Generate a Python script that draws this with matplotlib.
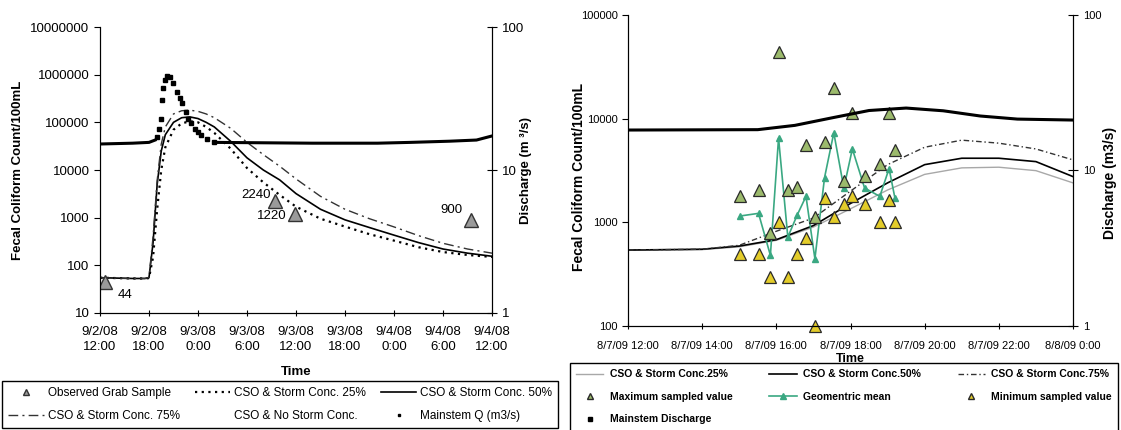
import matplotlib

matplotlib.use("Agg")
import matplotlib.pyplot as plt
from matplotlib.lines import Line2D
from matplotlib.ticker import FixedLocator, NullLocator, FuncFormatter

plt.rcParams["font.family"] = ["Liberation Sans", "DejaVu Sans"]

# ---- September 2008 storm, hours after 9/2/08 12:00 ----
storm_hours = [0, 2, 4, 5.5, 6, 6.5, 7, 7.5, 8, 9, 10, 11, 12, 13, 14, 16, 18,
               20, 22, 24, 27, 30, 33, 36, 39, 42, 45, 48]
conc_25 = [55, 54, 53, 53, 54, 150, 1500, 10000, 30000, 70000, 95000, 105000,
           100000, 80000, 60000, 28000, 11000, 5500, 3000, 1700, 950, 650, 450,
           330, 240, 190, 165, 150]
conc_50 = [55, 54, 53, 53, 55, 300, 5000, 25000, 55000, 100000, 125000, 130000,
           120000, 100000, 80000, 40000, 18000, 10000, 6200, 3200, 1500, 900, 620,
           430, 300, 220, 180, 155]
conc_75 = [55, 54, 53, 53, 56, 400, 6000, 35000, 80000, 150000, 175000, 180000,
           170000, 150000, 125000, 75000, 38000, 21000, 12000, 6500, 2800, 1500,
           950, 640, 420, 290, 220, 180]

grab_hours = [0.6, 21.4, 23.9, 45.4]
grab_values = [44, 2240, 1220, 900]
grab_labels = ["44", "2240", "1220", "900"]

# mainstem discharge (m3/s): steady flow either side of the flood pulse
q_pre_hours = [0, 2, 4, 6, 6.75]
q_pre = [15.2, 15.3, 15.4, 15.6, 16.2]
q_pulse_hours = [6.94, 7.26, 7.46, 7.63, 7.75, 7.96, 8.24, 8.57, 8.98, 9.4, 9.8,
                 10.1, 10.5, 10.8, 11.2, 11.6, 12.03, 12.4, 13.05, 13.9]
q_pulse = [17.1, 19.5, 22.9, 31, 37.2, 42.6, 45.4, 44.5, 40.4, 35.3, 31.7, 29.3,
           25.6, 22.9, 21.2, 19.5, 18.5, 17.6, 16.6, 15.8]
q_post_hours = [14, 20, 26, 34, 38, 42.8, 46.1, 48]
q_post = [15.6, 15.5, 15.4, 15.4, 15.6, 15.9, 16.2, 17.3]

ticks_2008 = [0, 6, 12, 18, 24, 30, 36, 42, 48]
tick_labels_2008 = ["9/2/08\n12:00", "9/2/08\n18:00", "9/3/08\n0:00",
                    "9/3/08\n6:00", "9/3/08\n12:00", "9/3/08\n18:00",
                    "9/4/08\n0:00", "9/4/08\n6:00", "9/4/08\n12:00"]

# ---- August 2009 storm, hours after 8/7/09 12:00 ----
model_hours = [0, 2, 3, 4, 5, 6, 7, 8, 9, 10, 11, 12]
model_25 = [540, 545, 580, 670, 900, 1350, 2050, 2900, 3350, 3400, 3150, 2400]
model_50 = [540, 550, 590, 680, 930, 1520, 2400, 3600, 4150, 4150, 3850, 2760]
model_75 = [540, 550, 600, 820, 1100, 2000, 3600, 5300, 6200, 5800, 5100, 4000]

sample_hours = [3.02, 3.52, 3.84, 4.06, 4.31, 4.56, 4.8, 5.04, 5.3, 5.55, 5.82,
                6.05, 6.38, 6.79, 7.04, 7.2]
sample_max = [1780, 2050, 790, 44000, 2050, 2200, 5600, 1130, 5900, 19600, 2500,
              11300, 2820, 3630, 11300, 5000]
sample_min = [500, 500, 300, 1010, 300, 500, 710, 100, 1700, 1130, 1510, 1780,
              1510, 1000, 1650, 1000]
sample_geomean = [1150, 1220, 480, 6500, 720, 1170, 1780, 445, 2700, 7300, 2140,
                  5100, 2140, 1780, 3300, 1700]

discharge_hours = [0, 3.5, 4.5, 5.5, 6.5, 7.5, 8.5, 9.5, 10.5, 12]
discharge_2009 = [18.2, 18.3, 19.5, 21.8, 24.3, 25.2, 24.2, 22.4, 21.4, 21.1]

ticks_2009 = [0, 2, 4, 6, 8, 10, 12]
tick_labels_2009 = ["8/7/09 12:00", "8/7/09 14:00", "8/7/09 16:00",
                    "8/7/09 18:00", "8/7/09 20:00", "8/7/09 22:00", "8/8/09 0:00"]

plain = FuncFormatter(lambda v, pos: f"{v:.0f}")


def log_axis(axis, ticks, size):
    axis.set_major_locator(FixedLocator(ticks))
    axis.set_minor_locator(NullLocator())
    axis.set_major_formatter(plain)
    for lab in axis.get_ticklabels():
        lab.set_fontsize(size)


fig = plt.figure(figsize=(11.21, 4.3), dpi=100)

# ---------------- left panel ----------------
ax1 = fig.add_axes([0.0892, 0.2721, 0.3497, 0.6651])
ax1r = ax1.twinx()

l25, = ax1.plot(storm_hours, conc_25, color="black", lw=1.6, ls=(0, (1, 2)),
                label="CSO & Storm Conc. 25%")
l50, = ax1.plot(storm_hours, conc_50, color="black", lw=1.2,
                label="CSO & Storm Conc. 50%")
l75, = ax1.plot(storm_hours, conc_75, color="#333333", lw=1.0,
                ls=(0, (7, 3, 1.5, 3)), label="CSO & Storm Conc. 75%")
grab, = ax1.plot(grab_hours, grab_values, ls="none", marker="^", ms=10,
                 mfc="#9a9a9a", mec="#333333", mew=1.0,
                 label="Observed Grab Sample")
label_offsets = [(9, -9, "left"), (-3, 4, "right"), (-6, -2, "right"),
                 (-6, 7, "right")]
for h, v, text, (dx, dy, ha) in zip(grab_hours, grab_values, grab_labels,
                                    label_offsets):
    ax1.annotate(text, (h, v), xytext=(dx, dy), textcoords="offset points",
                 ha=ha, va="center", fontsize=9.5)

ax1r.plot(q_pre_hours, q_pre, color="black", lw=2.2)
ax1r.plot(q_post_hours, q_post, color="black", lw=2.2)
mq, = ax1r.plot(q_pulse_hours, q_pulse, ls="none", marker="s", ms=3,
                color="black", label="Mainstem Q (m3/s)")
no_storm = Line2D([], [], ls="none", label="CSO & No Storm Conc.")

ax1.set_yscale("log")
ax1.set_ylim(10, 1e7)
ax1.set_xlim(0, 48)
log_axis(ax1.yaxis, [10, 100, 1e3, 1e4, 1e5, 1e6, 1e7], 9.5)
ax1.set_xticks(ticks_2008)
ax1.set_xticklabels(tick_labels_2008, fontsize=9.5, linespacing=1.35)
ax1r.set_yscale("log")
ax1r.set_ylim(1, 100)
log_axis(ax1r.yaxis, [1, 10, 100], 9.5)

ax1.set_ylabel("Fecal Coliform Count/100mL", fontsize=9.5, fontweight="bold")
ax1.yaxis.set_label_coords(-0.195, 0.5)
ax1r.set_ylabel("Discharge (m \u00b3/s)", fontsize=9.5, fontweight="bold")
ax1r.yaxis.set_label_coords(1.072, 0.5)
ax1.set_xlabel("Time", fontsize=9.5, fontweight="bold")
ax1.xaxis.set_label_coords(0.5, -0.185)

for a in (ax1, ax1r):
    a.spines["top"].set_visible(False)
ax1.tick_params(axis="y", direction="out", length=4)
ax1.tick_params(axis="x", direction="inout", length=5, pad=7)
ax1r.tick_params(axis="y", direction="inout", length=7)

handles1 = [grab, l75, l25, no_storm, l50, mq]
fig.legend(handles=handles1, labels=[h.get_label() for h in handles1],
           ncol=3, loc="lower left", bbox_to_anchor=(0.002, 0.005, 0.496, 0.11),
           mode="expand", borderaxespad=0, fontsize=8.5, frameon=True,
           fancybox=False, edgecolor="black", framealpha=1, handlelength=3.0,
           markerscale=0.5, labelspacing=0.9, borderpad=0.5,
           handletextpad=0.35, columnspacing=0.5)

# ---------------- right panel ----------------
ax2 = fig.add_axes([0.5602, 0.2419, 0.3970, 0.7233])
ax2r = ax2.twinx()

m25, = ax2.plot(model_hours, model_25, color="#a8a8a8", lw=1.0,
                label="CSO & Storm Conc.25%")
m50, = ax2.plot(model_hours, model_50, color="black", lw=1.2,
                label="CSO & Storm Conc.50%")
m75, = ax2.plot(model_hours, model_75, color="#333333", lw=1.0,
                ls=(0, (4, 2, 1, 2)), label="CSO & Storm Conc.75%")
gm, = ax2.plot(sample_hours, sample_geomean, color="#3aa882", lw=1.2,
               marker="^", ms=4, label="Geomentric mean")
smax, = ax2.plot(sample_hours, sample_max, ls="none", marker="^", ms=8.5,
                 mfc="#9cba6c", mec="#2a2a2a", mew=0.9,
                 label="Maximum sampled value")
smin, = ax2.plot(sample_hours, sample_min, ls="none", marker="^", ms=8.5,
                 mfc="#e3cc2a", mec="#2a2a2a", mew=0.9,
                 label="Minimum sampled value")
smin.set_clip_on(False)
ax2r.plot(discharge_hours, discharge_2009, color="black", lw=2.2)
md_handle = Line2D([], [], ls="none", marker="s", ms=2.5, color="black",
                   label="Mainstem Discharge")

ax2.set_yscale("log")
ax2.set_ylim(100, 1e5)
ax2.set_xlim(0, 12)
log_axis(ax2.yaxis, [100, 1e3, 1e4, 1e5], 8)
ax2.set_xticks(ticks_2009)
ax2.set_xticklabels(tick_labels_2009, fontsize=8)
ax2r.set_yscale("log")
ax2r.set_ylim(1, 100)
log_axis(ax2r.yaxis, [1, 10, 100], 8)

ax2.set_ylabel("Fecal Coliform Count/100mL", fontsize=10, fontweight="bold")
ax2.yaxis.set_label_coords(-0.094, 0.48)
ax2r.set_ylabel("Discharge (m3/s)", fontsize=10, fontweight="bold")
ax2r.yaxis.set_label_coords(1.068, 0.46)
ax2.set_xlabel("Time", fontsize=9, fontweight="bold")
ax2.xaxis.set_label_coords(0.5, -0.086)

for a in (ax2, ax2r):
    a.spines["top"].set_visible(False)
ax2.tick_params(axis="y", direction="out", length=4)
ax2.tick_params(axis="x", direction="inout", length=5, pad=8)
ax2r.tick_params(axis="y", direction="inout", length=7)

small_max = Line2D([], [], ls="none", marker="^", ms=4, mfc="#9cba6c",
                   mec="#2a2a2a", label=smax.get_label())
small_min = Line2D([], [], ls="none", marker="^", ms=4, mfc="#e3cc2a",
                   mec="#2a2a2a", label=smin.get_label())
handles2 = [m25, small_max, md_handle, m50, gm, m75, small_min]
fig.legend(handles=handles2, labels=[h.get_label() for h in handles2],
           ncol=3, loc="upper left", bbox_to_anchor=(0.5085, -0.3, 0.4888, 0.4558),
           mode="expand", borderaxespad=0, prop={"size": 7.5, "weight": "bold"},
           frameon=True, fancybox=False, edgecolor="black", framealpha=1,
           handlelength=2.6, labelspacing=1.2, borderpad=0.6,
           handletextpad=0.6, columnspacing=0.8)

fig.savefig("out.png", dpi=100)
plt.close(fig)
